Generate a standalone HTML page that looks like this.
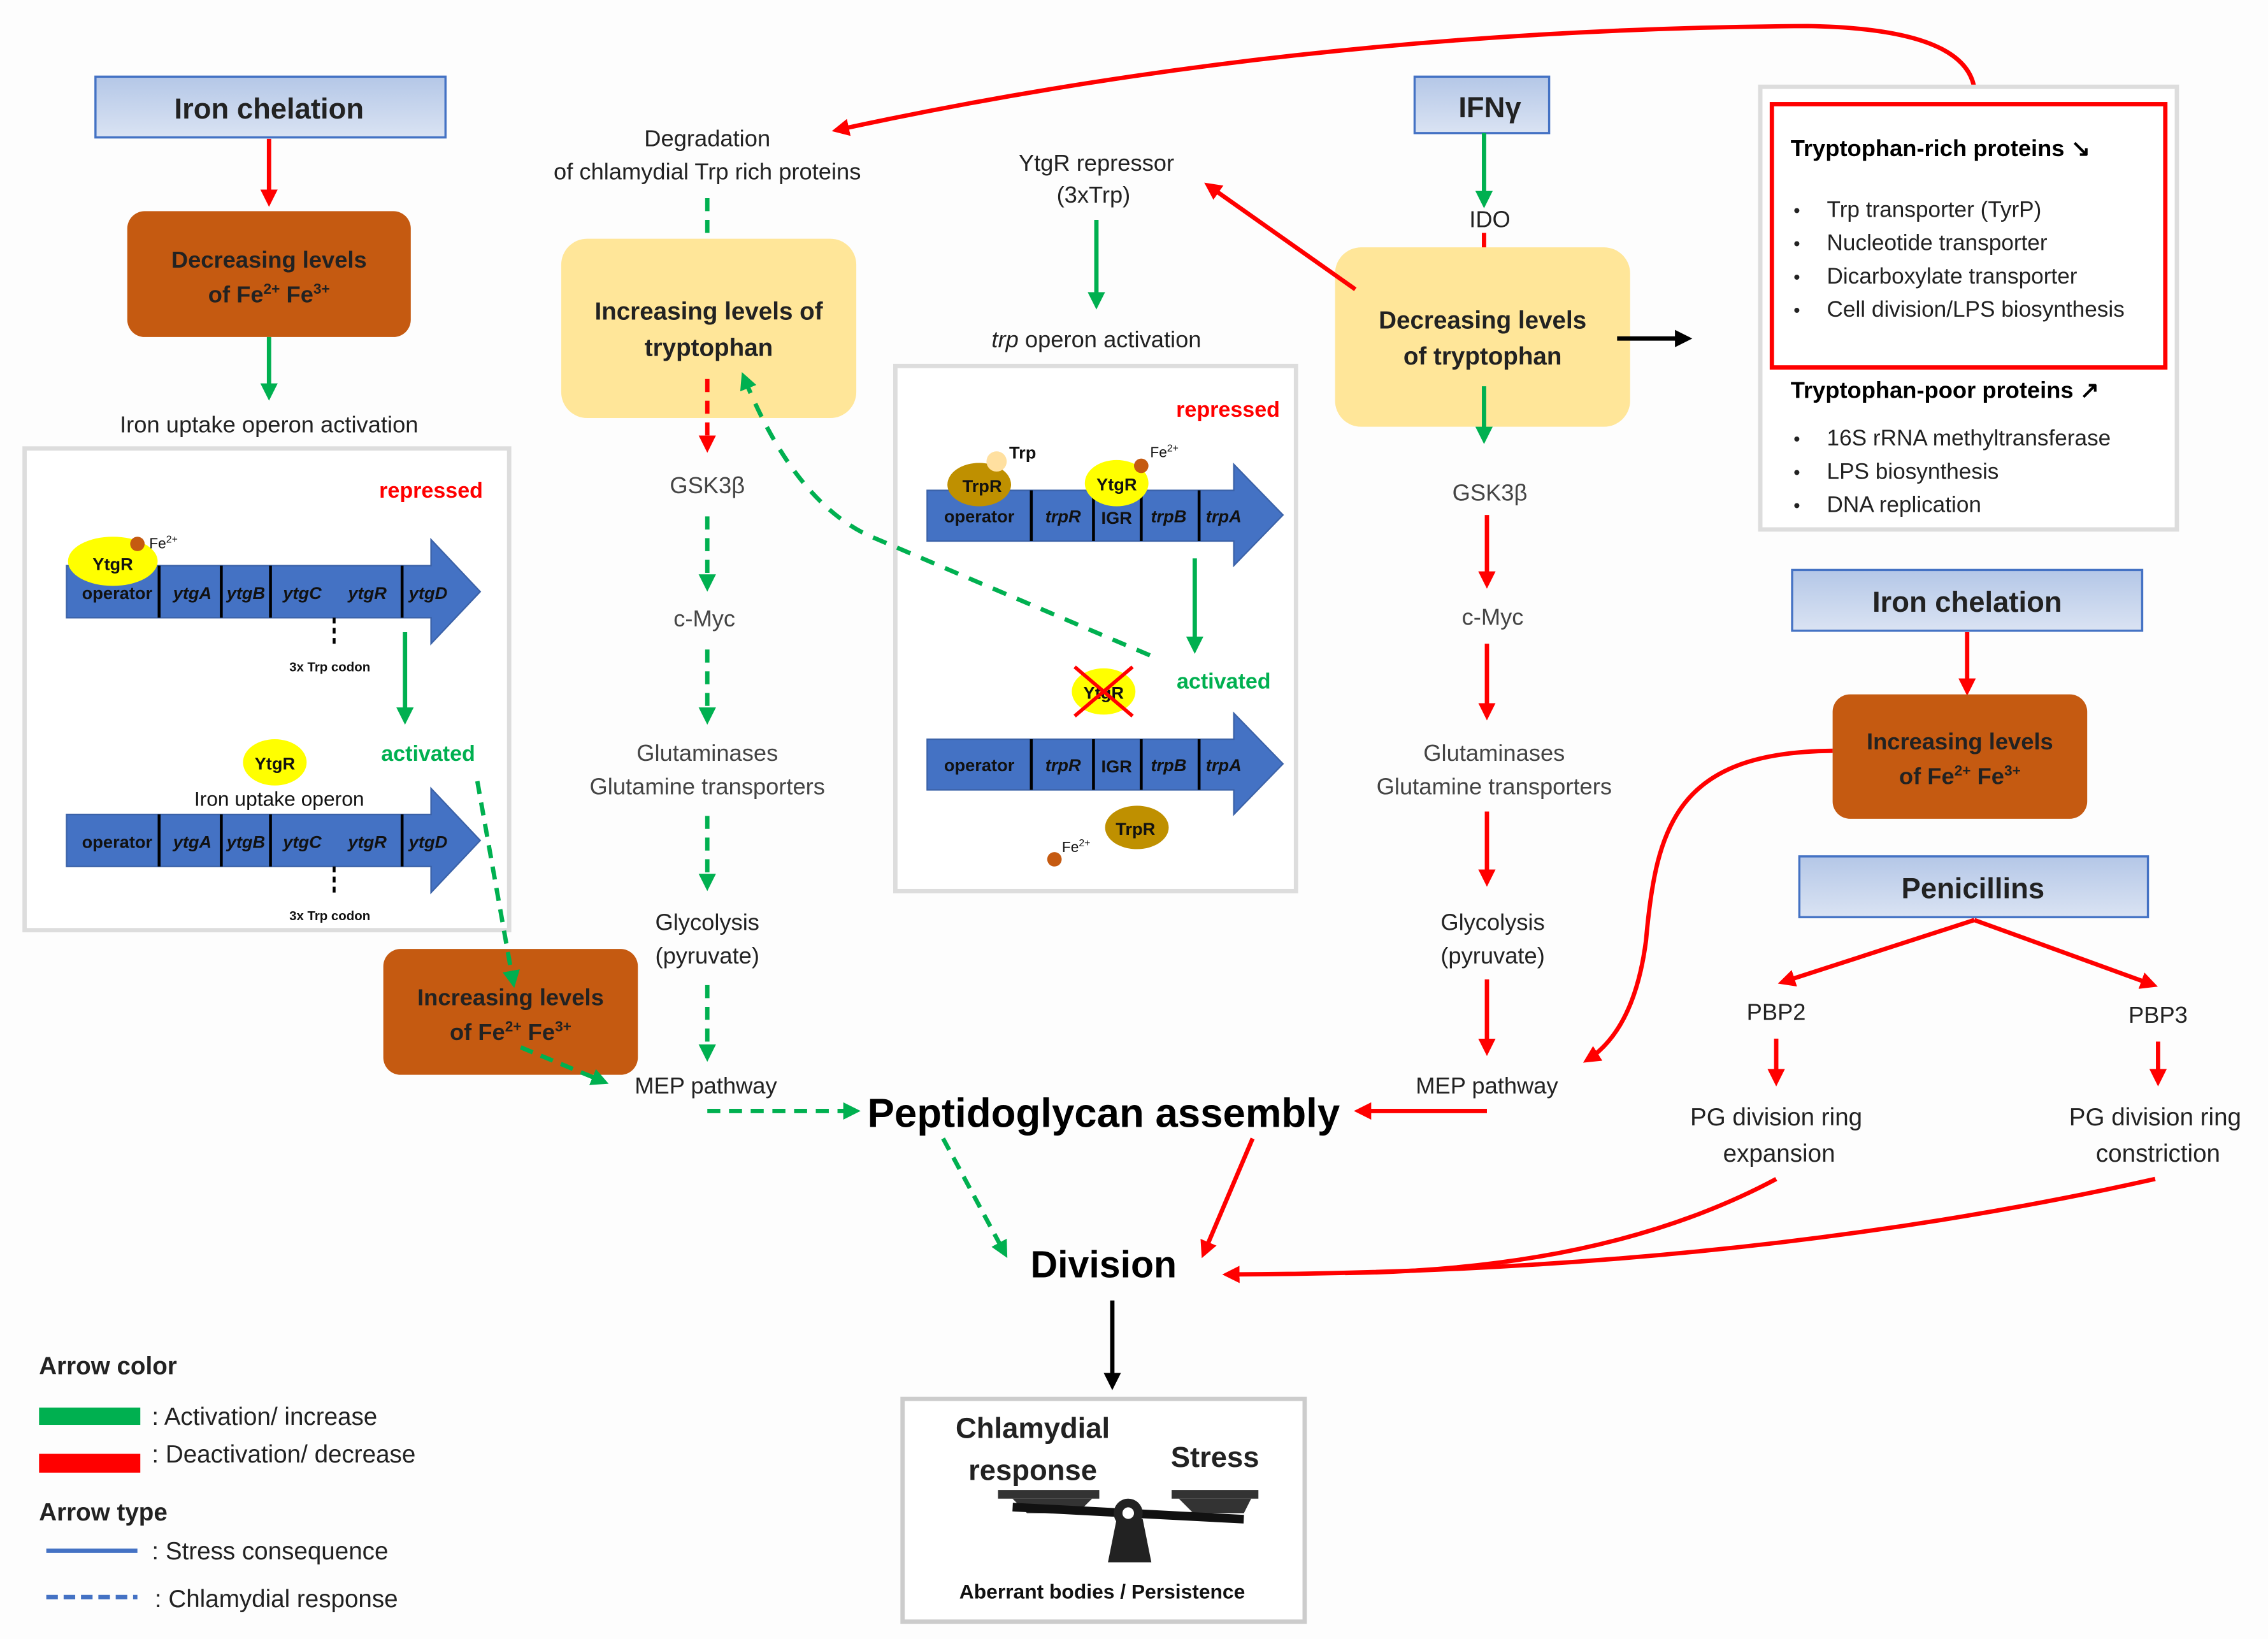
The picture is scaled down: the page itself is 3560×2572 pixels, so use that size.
<!DOCTYPE html>
<html><head><meta charset="utf-8"><style>html,body{margin:0;padding:0;background:#fff}svg{display:block}text{font-family:"Liberation Sans",sans-serif}</style></head><body>
<svg width="3560" height="2572" viewBox="0 0 1568 1133" preserveAspectRatio="none" xmlns="http://www.w3.org/2000/svg">
<defs>
<marker id="g" markerWidth="4" markerHeight="4" refX="3" refY="2" orient="auto" markerUnits="strokeWidth"><path d="M0,0L4,2L0,4z" fill="#00b050"/></marker>
<marker id="r" markerWidth="4" markerHeight="4" refX="3" refY="2" orient="auto" markerUnits="strokeWidth"><path d="M0,0L4,2L0,4z" fill="#f00"/></marker>
<marker id="k" markerWidth="4" markerHeight="4" refX="3" refY="2" orient="auto" markerUnits="strokeWidth"><path d="M0,0L4,2L0,4z" fill="#000"/></marker>
<linearGradient id="bl" x1="0" y1="0" x2="0" y2="1"><stop offset="0" stop-color="#b4c7e7"/><stop offset="1" stop-color="#dae3f3"/></linearGradient>
</defs>
<rect width="1568" height="1133" fill="#fdfdfd"/>
<g font-size="16" text-anchor="middle" fill="#222">
<!-- left column -->
<rect x="66" y="53" width="242" height="42" fill="url(#bl)" stroke="#4472c4" stroke-width="1.5"/>
<text x="186" y="82" font-size="20" font-weight="bold">Iron chelation</text>
<line x1="186" y1="96" x2="186" y2="140" stroke="#f00" stroke-width="3" marker-end="url(#r)"/>
<rect x="88" y="146" width="196" height="87" rx="12" fill="#c55a11"/>
<text x="186" y="185" font-size="16" font-weight="bold">Decreasing levels</text>
<text x="186" y="209" font-size="16" font-weight="bold">of  Fe<tspan font-size="10" dy="-6">2+</tspan><tspan dy="6"> Fe</tspan><tspan font-size="10" dy="-6">3+</tspan></text>
<line x1="186" y1="233" x2="186" y2="274" stroke="#00b050" stroke-width="3" marker-end="url(#g)"/>
<text x="186" y="299">Iron uptake operon activation</text>
<rect x="17" y="310" width="335" height="333" fill="#fff" stroke="#ddd" stroke-width="3"/>
<text x="298" y="344" font-size="15" font-weight="bold" fill="#f00">repressed</text>
<g id="op1">
<path d="M46,391H298V373L332,409L298,445V427H46z" fill="#4472c4" stroke="#3b62a8"/>
<g stroke="#000" stroke-width="2"><line x1="110" y1="391" x2="110" y2="427"/><line x1="153" y1="391" x2="153" y2="427"/><line x1="187" y1="391" x2="187" y2="427"/><line x1="278" y1="391" x2="278" y2="427"/></g>
<g font-size="12" font-weight="bold" fill="#111"><text x="81" y="414">operator</text><g font-style="italic"><text x="133" y="414">ytgA</text><text x="170" y="414">ytgB</text><text x="209" y="414">ytgC</text><text x="254" y="414">ytgR</text><text x="296" y="414">ytgD</text></g></g>
<line x1="231" y1="427" x2="231" y2="448" stroke="#000" stroke-width="2" stroke-dasharray="4,3"/>
<text x="228" y="464" font-size="9" font-weight="bold" fill="#111">3x Trp codon</text>
</g>
<ellipse cx="78" cy="388" rx="31" ry="17" fill="#ffff00"/><text x="78" y="394" font-size="12" font-weight="bold" fill="#111">YtgR</text>
<circle cx="95" cy="376" r="5" fill="#c55a11"/><text x="113" y="379" font-size="10" fill="#111">Fe<tspan font-size="7" dy="-4">2+</tspan></text>
<line x1="280" y1="437" x2="280" y2="498" stroke="#00b050" stroke-width="3" marker-end="url(#g)"/>
<text x="296" y="526" font-size="15" font-weight="bold" fill="#00b050">activated</text>
<ellipse cx="190" cy="527" rx="22" ry="16" fill="#ffff00"/><text x="190" y="532" font-size="12" font-weight="bold" fill="#111">YtgR</text>
<text x="193" y="557" font-size="14" fill="#111">Iron uptake operon</text>
<use href="#op1" transform="translate(0,172)"/>
<rect x="265" y="656" width="176" height="87" rx="12" fill="#c55a11"/>
<text x="353" y="695" font-weight="bold">Increasing levels</text>
<text x="353" y="719" font-weight="bold">of  Fe<tspan font-size="10" dy="-6">2+</tspan><tspan dy="6"> Fe</tspan><tspan font-size="10" dy="-6">3+</tspan></text>
<line x1="330" y1="540" x2="355" y2="680" stroke="#00b050" stroke-width="3" stroke-dasharray="9,6" marker-end="url(#g)"/>
<line x1="360" y1="724" x2="418" y2="748" stroke="#00b050" stroke-width="3" stroke-dasharray="9,6" marker-end="url(#g)"/>
<!-- middle-left column -->
<text x="489" y="101">Degradation</text><text x="489" y="124">of chlamydial Trp rich proteins</text>
<line x1="489" y1="137" x2="489" y2="202" stroke="#00b050" stroke-width="3" stroke-dasharray="9,6" marker-end="url(#g)"/>
<rect x="388" y="165" width="204" height="124" rx="18" fill="#ffe699"/>
<text x="490" y="221" font-size="17" font-weight="bold">Increasing levels of</text>
<text x="490" y="246" font-size="17" font-weight="bold">tryptophan</text>
<line x1="489" y1="262" x2="489" y2="310" stroke="#f00" stroke-width="3" stroke-dasharray="9,6" marker-end="url(#r)"/>
<text x="489" y="341" fill="#444">GSK3β</text>
<line x1="489" y1="357" x2="489" y2="406" stroke="#00b050" stroke-width="3" stroke-dasharray="9,6" marker-end="url(#g)"/>
<text x="487" y="433" fill="#444">c-Myc</text>
<line x1="489" y1="449" x2="489" y2="498" stroke="#00b050" stroke-width="3" stroke-dasharray="9,6" marker-end="url(#g)"/>
<text x="489" y="526" fill="#444">Glutaminases</text><text x="489" y="549" fill="#444">Glutamine transporters</text>
<line x1="489" y1="564" x2="489" y2="613" stroke="#00b050" stroke-width="3" stroke-dasharray="9,6" marker-end="url(#g)"/>
<text x="489" y="643">Glycolysis</text><text x="489" y="666">(pyruvate)</text>
<line x1="489" y1="681" x2="489" y2="731" stroke="#00b050" stroke-width="3" stroke-dasharray="9,6" marker-end="url(#g)"/>
<text x="488" y="756">MEP pathway</text>
<line x1="489" y1="768" x2="592" y2="768" stroke="#00b050" stroke-width="3" stroke-dasharray="9,6" marker-end="url(#g)"/>
<!-- trp operon -->
<text x="758" y="118">YtgR repressor</text><text x="756" y="140">(3xTrp)</text>
<line x1="758" y1="152" x2="758" y2="211" stroke="#00b050" stroke-width="3" marker-end="url(#g)"/>
<text x="758" y="240"><tspan font-style="italic">trp</tspan> operon activation</text>
<rect x="619" y="253" width="277" height="363" fill="#fff" stroke="#ddd" stroke-width="3"/>
<text x="849" y="288" font-size="15" font-weight="bold" fill="#f00">repressed</text>
<g id="op2">
<path d="M641,339H853V321L887,356L853,391V374H641z" fill="#4472c4" stroke="#3b62a8"/>
<g stroke="#000" stroke-width="2"><line x1="713" y1="339" x2="713" y2="374"/><line x1="756" y1="339" x2="756" y2="374"/><line x1="789" y1="339" x2="789" y2="374"/><line x1="829" y1="339" x2="829" y2="374"/></g>
<g font-size="12" font-weight="bold" fill="#111"><text x="677" y="361">operator</text><text x="772" y="362">IGR</text><g font-style="italic"><text x="735" y="361">trpR</text><text x="808" y="361">trpB</text><text x="846" y="361">trpA</text></g></g>
</g>
<ellipse cx="677" cy="335" rx="22" ry="15" fill="#bf9000"/><text x="679" y="340" font-size="12" font-weight="bold" fill="#111">TrpR</text>
<circle cx="689" cy="319" r="7" fill="#ffe0a0"/><text x="707" y="317" font-size="12" font-weight="bold" fill="#111">Trp</text>
<ellipse cx="772" cy="334" rx="22" ry="16" fill="#ffff00"/><text x="772" y="339" font-size="12" font-weight="bold" fill="#111">YtgR</text>
<circle cx="789" cy="322" r="5" fill="#c55a11"/><text x="805" y="316" font-size="10" fill="#111">Fe<tspan font-size="7" dy="-4">2+</tspan></text>
<line x1="826" y1="386" x2="826" y2="449" stroke="#00b050" stroke-width="3" marker-end="url(#g)"/>
<text x="846" y="476" font-size="15" font-weight="bold" fill="#00b050">activated</text>
<ellipse cx="763" cy="478" rx="22" ry="16" fill="#ffff00"/><text x="763" y="483" font-size="12" font-weight="bold" fill="#111">YtgR</text>
<g stroke="#f00" stroke-width="2.5"><line x1="743" y1="461" x2="783" y2="495"/><line x1="783" y1="461" x2="743" y2="495"/></g>
<use href="#op2" transform="translate(0,172)"/>
<ellipse cx="786" cy="572" rx="22" ry="15" fill="#bf9000"/><text x="785" y="577" font-size="12" font-weight="bold" fill="#111">TrpR</text>
<circle cx="729" cy="594" r="5" fill="#c55a11"/><text x="744" y="589" font-size="10" fill="#111">Fe<tspan font-size="7" dy="-4">2+</tspan></text>
<path d="M795,453L600,370Q548,345 514,260" fill="none" stroke="#00b050" stroke-width="3" stroke-dasharray="10,8" marker-end="url(#g)"/>
<!-- IFN column -->
<rect x="978" y="53" width="93" height="39" fill="url(#bl)" stroke="#4472c4" stroke-width="1.5"/>
<text x="1030" y="81" font-size="20" font-weight="bold">IFNγ</text>
<line x1="1026" y1="92" x2="1026" y2="141" stroke="#00b050" stroke-width="3" marker-end="url(#g)"/>
<text x="1030" y="157">IDO</text>
<line x1="1026" y1="161" x2="1026" y2="195" stroke="#f00" stroke-width="3" marker-end="url(#r)"/>
<rect x="923" y="171" width="204" height="124" rx="18" fill="#ffe699"/>
<text x="1025" y="227" font-size="17" font-weight="bold">Decreasing levels</text>
<text x="1025" y="252" font-size="17" font-weight="bold">of tryptophan</text>
<line x1="937" y1="200" x2="835" y2="128" stroke="#f00" stroke-width="3" marker-end="url(#r)"/>
<line x1="1118" y1="234" x2="1167" y2="234" stroke="#000" stroke-width="3" marker-end="url(#k)"/>
<line x1="1026" y1="267" x2="1026" y2="304" stroke="#00b050" stroke-width="3" marker-end="url(#g)"/>
<text x="1030" y="346" fill="#444">GSK3β</text>
<line x1="1028" y1="356" x2="1028" y2="404" stroke="#f00" stroke-width="3" marker-end="url(#r)"/>
<text x="1032" y="432" fill="#444">c-Myc</text>
<line x1="1028" y1="445" x2="1028" y2="495" stroke="#f00" stroke-width="3" marker-end="url(#r)"/>
<text x="1033" y="526" fill="#444">Glutaminases</text><text x="1033" y="549" fill="#444">Glutamine transporters</text>
<line x1="1028" y1="561" x2="1028" y2="610" stroke="#f00" stroke-width="3" marker-end="url(#r)"/>
<text x="1032" y="643">Glycolysis</text><text x="1032" y="666">(pyruvate)</text>
<line x1="1028" y1="677" x2="1028" y2="727" stroke="#f00" stroke-width="3" marker-end="url(#r)"/>
<text x="1028" y="756">MEP pathway</text>
<line x1="1028" y1="768" x2="939" y2="768" stroke="#f00" stroke-width="3" marker-end="url(#r)"/>
<path d="M1365,72Q1372,20 1250,18Q900,20 578,90" fill="none" stroke="#f00" stroke-width="3" marker-end="url(#r)"/>
<!-- right -->
<rect x="1217" y="60" width="288" height="306" fill="#fff" stroke="#ddd" stroke-width="3"/>
<rect x="1225" y="72" width="272" height="182" fill="none" stroke="#f00" stroke-width="3"/>
<g text-anchor="start" font-size="15.5">
<text x="1238" y="108" font-size="16" font-weight="bold" fill="#000">Tryptophan-rich proteins  ↘</text>
<g font-size="13"><text x="1240" y="150">•</text><text x="1240" y="173">•</text><text x="1240" y="196">•</text><text x="1240" y="219">•</text><text x="1240" y="308">•</text><text x="1240" y="331">•</text><text x="1240" y="354">•</text></g>
<text x="1263" y="150">Trp transporter (TyrP)</text>
<text x="1263" y="173">Nucleotide transporter</text>
<text x="1263" y="196">Dicarboxylate transporter</text>
<text x="1263" y="219">Cell division/LPS biosynthesis</text>
<text x="1238" y="275" font-size="16" font-weight="bold" fill="#000">Tryptophan-poor proteins  ↗</text>
<text x="1263" y="308">16S rRNA methyltransferase</text>
<text x="1263" y="331">LPS biosynthesis</text>
<text x="1263" y="354">DNA replication</text>
</g>
<rect x="1239" y="394" width="242" height="42" fill="url(#bl)" stroke="#4472c4" stroke-width="1.5"/>
<text x="1360" y="423" font-size="20" font-weight="bold">Iron chelation</text>
<line x1="1360" y1="437" x2="1360" y2="478" stroke="#f00" stroke-width="3" marker-end="url(#r)"/>
<rect x="1267" y="480" width="176" height="86" rx="12" fill="#c55a11"/>
<text x="1355" y="518" font-weight="bold">Increasing levels</text>
<text x="1355" y="542" font-weight="bold">of  Fe<tspan font-size="10" dy="-6">2+</tspan><tspan dy="6"> Fe</tspan><tspan font-size="10" dy="-6">3+</tspan></text>
<path d="M1267,519C1160,520 1145,570 1138,650Q1130,712 1097,733" fill="none" stroke="#f00" stroke-width="3" marker-end="url(#r)"/>
<rect x="1244" y="592" width="241" height="42" fill="url(#bl)" stroke="#4472c4" stroke-width="1.5"/>
<text x="1364" y="621" font-size="20" font-weight="bold">Penicillins</text>
<line x1="1365" y1="636" x2="1232" y2="679" stroke="#f00" stroke-width="3" marker-end="url(#r)"/>
<line x1="1365" y1="636" x2="1489" y2="681" stroke="#f00" stroke-width="3" marker-end="url(#r)"/>
<text x="1228" y="705">PBP2</text><text x="1492" y="707">PBP3</text>
<line x1="1228" y1="718" x2="1228" y2="748" stroke="#f00" stroke-width="3" marker-end="url(#r)"/>
<line x1="1492" y1="720" x2="1492" y2="748" stroke="#f00" stroke-width="3" marker-end="url(#r)"/>
<text x="1228" y="778" font-size="17">PG division ring</text><text x="1230" y="803" font-size="17">expansion</text>
<text x="1490" y="778" font-size="17">PG division ring</text><text x="1492" y="803" font-size="17">constriction</text>
<path d="M1228,815Q1110,878 930,880" fill="none" stroke="#f00" stroke-width="3"/>
<path d="M1490,815Q1200,880 848,881" fill="none" stroke="#f00" stroke-width="3" marker-end="url(#r)"/>
<!-- center -->
<text x="763" y="779" font-size="28" font-weight="bold" fill="#000">Peptidoglycan assembly</text>
<line x1="652" y1="787" x2="695" y2="867" stroke="#00b050" stroke-width="3" stroke-dasharray="9,6" marker-end="url(#g)"/>
<line x1="866" y1="787" x2="832" y2="867" stroke="#f00" stroke-width="3" marker-end="url(#r)"/>
<text x="763" y="883" font-size="26" font-weight="bold" fill="#000">Division</text>
<line x1="769" y1="899" x2="769" y2="958" stroke="#000" stroke-width="3" marker-end="url(#k)"/>
<rect x="624" y="967" width="278" height="154" fill="#fff" stroke="#ccc" stroke-width="3"/>
<text x="714" y="994" font-size="20" font-weight="bold" fill="#222">Chlamydial</text>
<text x="714" y="1023" font-size="20" font-weight="bold" fill="#222">response</text>
<text x="840" y="1014" font-size="20" font-weight="bold" fill="#222">Stress</text>
<path d="M690,1030H760V1036H690zM810,1030H870V1036H810z" fill="#333"/>
<path d="M700,1036L710,1046H745L755,1036zM815,1036L825,1046H860L865,1036z" fill="#333"/>
<rect x="700" y="1043" width="160" height="6" fill="#111" transform="rotate(3 780 1046)"/>
<circle cx="780" cy="1046" r="10" fill="#222"/><circle cx="780" cy="1046" r="4" fill="#fff"/>
<path d="M772,1050L766,1080H796L790,1050z" fill="#222"/>
<text x="762" y="1105" font-size="14" font-weight="bold" fill="#111">Aberrant bodies / Persistence</text>
<!-- legend -->
<g text-anchor="start" fill="#222">
<text x="27" y="950" font-size="17" font-weight="bold">Arrow color</text>
<rect x="27" y="973" width="70" height="12" fill="#00b050"/>
<text x="105" y="985" font-size="17">: Activation/ increase</text>
<rect x="27" y="1005" width="70" height="13" fill="#f00"/>
<text x="105" y="1011" font-size="17">: Deactivation/ decrease</text>
<text x="27" y="1051" font-size="17" font-weight="bold">Arrow type</text>
<line x1="32" y1="1072" x2="95" y2="1072" stroke="#4472c4" stroke-width="3"/>
<text x="105" y="1078" font-size="17">: Stress consequence</text>
<line x1="32" y1="1104" x2="95" y2="1104" stroke="#4472c4" stroke-width="3" stroke-dasharray="8,4"/>
<text x="107" y="1111" font-size="17">: Chlamydial response</text>
</g>
</g>
</svg>
</body></html>
